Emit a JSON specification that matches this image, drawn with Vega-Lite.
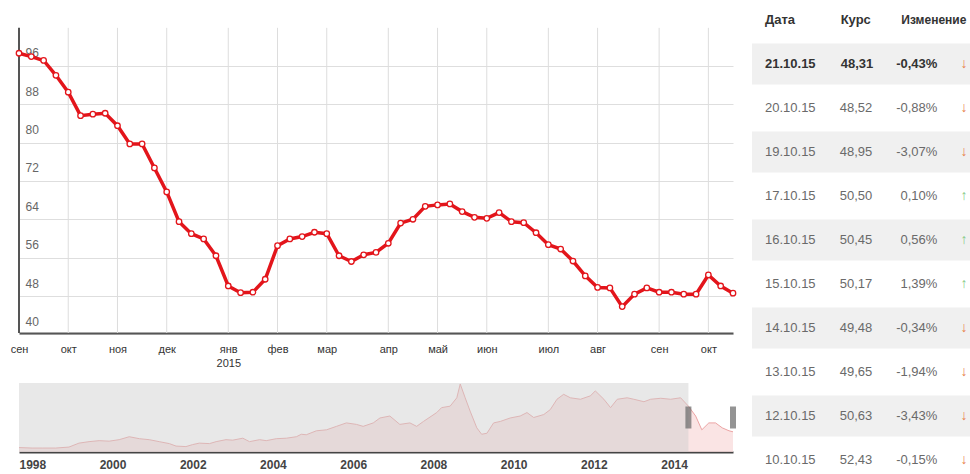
{
  "$schema": "https://vega.github.io/schema/vega-lite/v6.json",
  "background": "white",
  "padding": {"left": 10, "top": 0, "right": 0, "bottom": 0},
  "config": {"view": {"stroke": null}, "font": "Liberation Sans"},
  "bounds": "full",
  "spacing": 12,
  "datasets": {
    "weekly": [
      {"d": "2014-09-10", "v": 95.9}, {"d": "2014-09-17", "v": 95.2}, {"d": "2014-09-24", "v": 94.4},
      {"d": "2014-10-01", "v": 91.3}, {"d": "2014-10-08", "v": 87.8}, {"d": "2014-10-15", "v": 82.9},
      {"d": "2014-10-22", "v": 83.2}, {"d": "2014-10-29", "v": 83.4}, {"d": "2014-11-05", "v": 80.8},
      {"d": "2014-11-12", "v": 77.0}, {"d": "2014-11-19", "v": 77.0}, {"d": "2014-11-26", "v": 72.0},
      {"d": "2014-12-03", "v": 67.0}, {"d": "2014-12-10", "v": 60.8}, {"d": "2014-12-17", "v": 58.3},
      {"d": "2014-12-24", "v": 57.2}, {"d": "2014-12-31", "v": 53.7}, {"d": "2015-01-07", "v": 47.4},
      {"d": "2015-01-14", "v": 46.0}, {"d": "2015-01-21", "v": 46.1}, {"d": "2015-01-28", "v": 48.8},
      {"d": "2015-02-04", "v": 55.8}, {"d": "2015-02-11", "v": 57.2}, {"d": "2015-02-18", "v": 57.7},
      {"d": "2015-02-25", "v": 58.6}, {"d": "2015-03-04", "v": 58.3}, {"d": "2015-03-11", "v": 53.7},
      {"d": "2015-03-18", "v": 52.5}, {"d": "2015-03-25", "v": 53.9}, {"d": "2015-04-01", "v": 54.4},
      {"d": "2015-04-08", "v": 56.3}, {"d": "2015-04-15", "v": 60.5}, {"d": "2015-04-22", "v": 61.3},
      {"d": "2015-04-29", "v": 64.0}, {"d": "2015-05-06", "v": 64.3}, {"d": "2015-05-13", "v": 64.5},
      {"d": "2015-05-20", "v": 62.9}, {"d": "2015-05-27", "v": 61.7}, {"d": "2015-06-03", "v": 61.5},
      {"d": "2015-06-10", "v": 62.7}, {"d": "2015-06-17", "v": 60.8}, {"d": "2015-06-24", "v": 60.6},
      {"d": "2015-07-01", "v": 58.5}, {"d": "2015-07-08", "v": 56.0}, {"d": "2015-07-15", "v": 55.1},
      {"d": "2015-07-22", "v": 52.6}, {"d": "2015-07-29", "v": 49.5}, {"d": "2015-08-05", "v": 47.1},
      {"d": "2015-08-12", "v": 47.0}, {"d": "2015-08-19", "v": 43.1}, {"d": "2015-08-26", "v": 45.7},
      {"d": "2015-09-02", "v": 47.0}, {"d": "2015-09-09", "v": 46.1}, {"d": "2015-09-16", "v": 46.1},
      {"d": "2015-09-23", "v": 45.7}, {"d": "2015-09-30", "v": 45.7}, {"d": "2015-10-07", "v": 49.7},
      {"d": "2015-10-14", "v": 47.4}, {"d": "2015-10-21", "v": 45.9}
    ],
    "months": [
      {"m": "2014-10-08"}, {"m": "2014-11-05"}, {"m": "2014-12-03"}, {"m": "2015-01-07"},
      {"m": "2015-02-04"}, {"m": "2015-03-04"}, {"m": "2015-04-08"}, {"m": "2015-05-06"},
      {"m": "2015-06-03"}, {"m": "2015-07-08"}, {"m": "2015-08-05"}, {"m": "2015-09-09"},
      {"m": "2015-10-07"}
    ],
    "nav": [
      {"t": "1998-01-01", "v": 9}, {"t": "1998-05-01", "v": 8}, {"t": "1998-08-01", "v": 8},
      {"t": "1998-12-01", "v": 8}, {"t": "1999-04-01", "v": 10}, {"t": "1999-07-01", "v": 18},
      {"t": "1999-10-01", "v": 21}, {"t": "2000-01-01", "v": 23}, {"t": "2000-04-01", "v": 22},
      {"t": "2000-07-01", "v": 25}, {"t": "2000-10-01", "v": 31}, {"t": "2001-01-01", "v": 27},
      {"t": "2001-04-01", "v": 25}, {"t": "2001-07-01", "v": 21}, {"t": "2001-10-01", "v": 17},
      {"t": "2001-12-01", "v": 12}, {"t": "2002-03-01", "v": 11}, {"t": "2002-05-01", "v": 15},
      {"t": "2002-07-01", "v": 18}, {"t": "2002-10-01", "v": 17}, {"t": "2002-12-01", "v": 21},
      {"t": "2003-03-01", "v": 25}, {"t": "2003-05-01", "v": 24}, {"t": "2003-08-01", "v": 28},
      {"t": "2003-10-01", "v": 21}, {"t": "2004-01-01", "v": 25}, {"t": "2004-03-01", "v": 23},
      {"t": "2004-06-01", "v": 27}, {"t": "2004-09-01", "v": 28}, {"t": "2004-12-01", "v": 31},
      {"t": "2005-01-15", "v": 36}, {"t": "2005-03-01", "v": 35}, {"t": "2005-06-01", "v": 43},
      {"t": "2005-09-01", "v": 45}, {"t": "2005-12-01", "v": 52}, {"t": "2006-03-01", "v": 59},
      {"t": "2006-06-01", "v": 56}, {"t": "2006-08-01", "v": 52}, {"t": "2006-11-01", "v": 59},
      {"t": "2007-01-01", "v": 69}, {"t": "2007-04-01", "v": 73}, {"t": "2007-07-01", "v": 56},
      {"t": "2007-10-01", "v": 59}, {"t": "2007-12-01", "v": 52}, {"t": "2008-02-01", "v": 62},
      {"t": "2008-06-01", "v": 80}, {"t": "2008-07-15", "v": 90}, {"t": "2008-10-01", "v": 93},
      {"t": "2008-12-01", "v": 110}, {"t": "2009-01-01", "v": 138}, {"t": "2009-02-15", "v": 110},
      {"t": "2009-04-01", "v": 83}, {"t": "2009-06-01", "v": 49}, {"t": "2009-07-15", "v": 36},
      {"t": "2009-09-01", "v": 38}, {"t": "2009-11-01", "v": 59}, {"t": "2010-01-01", "v": 62},
      {"t": "2010-04-01", "v": 69}, {"t": "2010-07-01", "v": 73}, {"t": "2010-09-01", "v": 80},
      {"t": "2010-11-01", "v": 70}, {"t": "2011-02-01", "v": 76}, {"t": "2011-04-01", "v": 86},
      {"t": "2011-06-01", "v": 107}, {"t": "2011-08-01", "v": 117}, {"t": "2011-10-01", "v": 110},
      {"t": "2012-01-01", "v": 107}, {"t": "2012-04-01", "v": 114}, {"t": "2012-05-15", "v": 124},
      {"t": "2012-08-01", "v": 107}, {"t": "2012-10-01", "v": 90}, {"t": "2012-12-01", "v": 107},
      {"t": "2013-03-01", "v": 110}, {"t": "2013-05-01", "v": 107}, {"t": "2013-08-01", "v": 102},
      {"t": "2013-10-01", "v": 107}, {"t": "2014-01-01", "v": 109}, {"t": "2014-04-01", "v": 107},
      {"t": "2014-07-01", "v": 110}, {"t": "2014-09-10", "v": 93}, {"t": "2014-11-15", "v": 73},
      {"t": "2015-01-10", "v": 45}, {"t": "2015-03-15", "v": 59}, {"t": "2015-05-15", "v": 59},
      {"t": "2015-07-15", "v": 49}, {"t": "2015-09-15", "v": 43}, {"t": "2015-10-21", "v": 41}
    ],
    "tbl": [
      {"i": 0, "d": "Дата", "r": "Курс", "c": "Изменение", "a": ""},
      {"i": 1, "d": "21.10.15", "r": "48,31", "c": "-0,43%", "a": "↓"},
      {"i": 2, "d": "20.10.15", "r": "48,52", "c": "-0,88%", "a": "↓"},
      {"i": 3, "d": "19.10.15", "r": "48,95", "c": "-3,07%", "a": "↓"},
      {"i": 4, "d": "17.10.15", "r": "50,50", "c": "0,10%", "a": "↑"},
      {"i": 5, "d": "16.10.15", "r": "50,45", "c": "0,56%", "a": "↑"},
      {"i": 6, "d": "15.10.15", "r": "50,17", "c": "1,39%", "a": "↑"},
      {"i": 7, "d": "14.10.15", "r": "49,48", "c": "-0,34%", "a": "↓"},
      {"i": 8, "d": "13.10.15", "r": "49,65", "c": "-1,94%", "a": "↓"},
      {"i": 9, "d": "12.10.15", "r": "50,63", "c": "-3,43%", "a": "↓"},
      {"i": 10, "d": "10.10.15", "r": "52,43", "c": "-0,15%", "a": "↓"}
    ]
  },
  "hconcat": [
    {
      "vconcat": [
        {
          "width": 714,
          "height": 333,
          "layer": [
            {
              "data": {"name": "months"},
              "mark": {"type": "rule", "color": "#dddddd", "strokeWidth": 1},
              "encoding": {
                "x": {"field": "m", "type": "temporal"},
                "y": {"datum": 101.2, "type": "quantitative"},
                "y2": {"datum": 37.6}
              }
            },
            {
              "data": {"values": [{}]},
              "mark": {"type": "rule", "color": "#555555", "strokeWidth": 2},
              "encoding": {
                "x": {"datum": {"year": 2014, "month": 9, "date": 10, "utc": true}, "type": "temporal"},
                "y": {"datum": 101.2, "type": "quantitative"},
                "y2": {"datum": 37.6}
              }
            },
            {
              "data": {"name": "weekly"},
              "mark": {
                "type": "line",
                "color": "#e3151b",
                "strokeWidth": 3.5,
                "point": {"filled": true, "fill": "white", "stroke": "#e3151b", "strokeWidth": 1.3, "size": 30}
              },
              "encoding": {
                "x": {
                  "field": "d",
                  "type": "temporal",
                  "scale": {
                    "domain": [
                      {"year": 2014, "month": 9, "date": 10, "utc": true},
                      {"year": 2015, "month": 10, "date": 21, "utc": true}
                    ],
                    "nice": false
                  },
                  "axis": {
                    "title": null,
                    "grid": false,
                    "ticks": false,
                    "tickSize": 0,
                    "domainColor": "#555555",
                    "domainWidth": 2,
                    "labelColor": "#333333",
                    "labelFontSize": 11,
                    "labelPadding": 10,
                    "labelFlush": false,
                    "labelOverlap": false,
                    "labelLineHeight": 14,
                    "values": [
                      {"year": 2014, "month": 9, "date": 10, "utc": true},
                      {"year": 2014, "month": 10, "date": 8, "utc": true},
                      {"year": 2014, "month": 11, "date": 5, "utc": true},
                      {"year": 2014, "month": 12, "date": 3, "utc": true},
                      {"year": 2015, "month": 1, "date": 7, "utc": true},
                      {"year": 2015, "month": 2, "date": 4, "utc": true},
                      {"year": 2015, "month": 3, "date": 4, "utc": true},
                      {"year": 2015, "month": 4, "date": 8, "utc": true},
                      {"year": 2015, "month": 5, "date": 6, "utc": true},
                      {"year": 2015, "month": 6, "date": 3, "utc": true},
                      {"year": 2015, "month": 7, "date": 8, "utc": true},
                      {"year": 2015, "month": 8, "date": 5, "utc": true},
                      {"year": 2015, "month": 9, "date": 9, "utc": true},
                      {"year": 2015, "month": 10, "date": 7, "utc": true}
                    ],
                    "labelExpr": "utcmonth(datum.value) == 0 ? ['янв', '2015'] : ['янв','фев','мар','апр','май','июн','июл','авг','сен','окт','ноя','дек'][utcmonth(datum.value)]"
                  }
                },
                "y": {
                  "field": "v",
                  "type": "quantitative",
                  "scale": {"domain": [37.6, 107], "nice": false, "zero": false},
                  "axis": {
                    "title": null,
                    "values": [40, 48, 56, 64, 72, 80, 88, 96],
                    "domain": false,
                    "ticks": false,
                    "tickSize": 0,
                    "labelAlign": "left",
                    "labelPadding": -6,
                    "labelColor": "#666666",
                    "labelFontSize": 12,
                    "grid": true,
                    "gridColor": "#dedede",
                    "tickOffset": 13,
                    "labelOffset": -13
                  }
                }
              }
            }
          ]
        },
        {
          "width": 714,
          "height": 69,
          "layer": [
            {
              "data": {"name": "nav"},
              "mark": {"type": "area", "color": "#f8d8d8", "line": {"color": "#eca4a4", "strokeWidth": 1}},
              "encoding": {
                "x": {
                  "field": "t",
                  "type": "temporal",
                  "scale": {
                    "domain": [
                      {"year": 1998, "month": 1, "date": 1, "utc": true},
                      {"year": 2015, "month": 10, "date": 21, "utc": true}
                    ],
                    "nice": false
                  },
                  "axis": {
                    "title": null,
                    "grid": false,
                    "ticks": false,
                    "tickSize": 0,
                    "domainColor": "#444444",
                    "domainWidth": 2,
                    "labelColor": "#444444",
                    "labelFontSize": 12,
                    "labelFontWeight": "bold",
                    "labelPadding": 7,
                    "labelAlign": "left",
                    "labelFlush": false,
                    "labelOverlap": false,
                    "values": [
                      {"year": 1998, "month": 1, "date": 1, "utc": true},
                      {"year": 2000, "month": 1, "date": 1, "utc": true},
                      {"year": 2002, "month": 1, "date": 1, "utc": true},
                      {"year": 2004, "month": 1, "date": 1, "utc": true},
                      {"year": 2006, "month": 1, "date": 1, "utc": true},
                      {"year": 2008, "month": 1, "date": 1, "utc": true},
                      {"year": 2010, "month": 1, "date": 1, "utc": true},
                      {"year": 2012, "month": 1, "date": 1, "utc": true},
                      {"year": 2014, "month": 1, "date": 1, "utc": true}
                    ],
                    "labelExpr": "utcFormat(datum.value, '%Y')"
                  }
                },
                "y": {
                  "field": "v",
                  "type": "quantitative",
                  "scale": {"domain": [0, 140], "nice": false},
                  "axis": null
                }
              }
            },
            {
              "data": {"values": [{"s": "1998-01-01", "e": "2014-09-10"}]},
              "mark": {"type": "rect", "color": "#cccccc", "opacity": 0.45},
              "encoding": {
                "x": {"field": "s", "type": "temporal"},
                "x2": {"field": "e"}
              }
            },
            {
              "data": {"values": [{"h": "2014-09-10"}, {"h": "2015-10-21"}]},
              "mark": {"type": "tick", "orient": "vertical", "color": "#666666", "thickness": 6, "size": 22},
              "encoding": {
                "x": {"field": "h", "type": "temporal"}
              }
            }
          ]
        }
      ],
      "spacing": 50,
      "bounds": "flush"
    },
    {
      "width": 218,
      "height": 474,
      "data": {"name": "tbl"},
      "encoding": {
        "y": {
          "field": "i",
          "type": "ordinal",
          "scale": {"type": "point", "domain": [0, 1, 2, 3, 4, 5, 6, 7, 8, 9, 10], "padding": 0.386, "align": 0.588},
          "axis": null
        }
      },
      "layer": [
        {
          "transform": [{"filter": "datum.i % 2 == 1"}],
          "mark": {"type": "bar", "color": "#f0f0f0", "height": 41},
          "encoding": {}
        },
        {
          "transform": [{"filter": "datum.i >= 2"}],
          "mark": {"type": "text", "align": "left", "dx": 13, "fontSize": 13, "color": "#6a6a6a"},
          "encoding": {
            "x": {"datum": "d", "type": "nominal", "scale": {"type": "point", "domain": ["d", "r", "c", "a"], "padding": 0}, "axis": null},
            "text": {"field": "d"}
          }
        },
        {
          "transform": [{"filter": "datum.i <= 1"}],
          "mark": {"type": "text", "align": "left", "dx": 13, "fontSize": 13, "fontWeight": "bold", "color": "#333333"},
          "encoding": {
            "x": {"datum": "d", "type": "nominal"},
            "text": {"field": "d"}
          }
        },
        {
          "transform": [{"filter": "datum.i >= 2"}],
          "mark": {"type": "text", "align": "left", "dx": 15, "fontSize": 13, "color": "#6a6a6a"},
          "encoding": {
            "x": {"datum": "r", "type": "nominal"},
            "text": {"field": "r"}
          }
        },
        {
          "transform": [{"filter": "datum.i <= 1"}],
          "mark": {"type": "text", "align": "left", "dx": 16, "fontSize": 13, "fontWeight": "bold", "color": "#333333"},
          "encoding": {
            "x": {"datum": "r", "type": "nominal"},
            "text": {"field": "r"}
          }
        },
        {
          "transform": [{"filter": "datum.i >= 2"}],
          "mark": {"type": "text", "align": "right", "dx": 40, "fontSize": 13, "color": "#6a6a6a"},
          "encoding": {
            "x": {"datum": "c", "type": "nominal"},
            "text": {"field": "c"}
          }
        },
        {
          "transform": [{"filter": "datum.i == 1"}],
          "mark": {"type": "text", "align": "right", "dx": 40, "fontSize": 13, "fontWeight": "bold", "color": "#333333"},
          "encoding": {
            "x": {"datum": "c", "type": "nominal"},
            "text": {"field": "c"}
          }
        },
        {
          "transform": [{"filter": "datum.i == 0"}],
          "mark": {"type": "text", "align": "left", "dx": 4, "fontSize": 12, "fontWeight": "bold", "color": "#333333"},
          "encoding": {
            "x": {"datum": "c", "type": "nominal"},
            "text": {"field": "c"}
          }
        },
        {
          "transform": [{"filter": "datum.i >= 1"}],
          "mark": {"type": "text", "align": "center", "dx": -6, "fontSize": 14},
          "encoding": {
            "x": {"datum": "a", "type": "nominal"},
            "text": {"field": "a"},
            "color": {"field": "a", "type": "nominal", "scale": {"domain": ["↓", "↑"], "range": ["#e8824f", "#86c986"]}, "legend": null}
          }
        }
      ]
    }
  ]
}
